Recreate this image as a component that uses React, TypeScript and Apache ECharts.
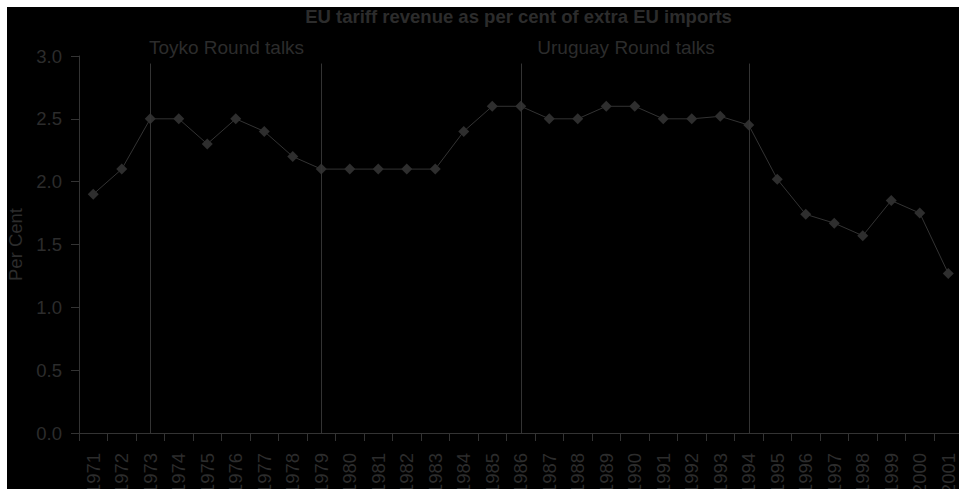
import React, { useEffect, useRef } from "react";
import * as echarts from "echarts";

const years = [
  "1971","1972","1973","1974","1975","1976","1977","1978","1979","1980",
  "1981","1982","1983","1984","1985","1986","1987","1988","1989","1990",
  "1991","1992","1993","1994","1995","1996","1997","1998","1999","2000","2001",
];
const revenue = [
  1.9, 2.1, 2.5, 2.5, 2.3, 2.5, 2.4, 2.2, 2.1, 2.1,
  2.1, 2.1, 2.1, 2.4, 2.6, 2.6, 2.5, 2.5, 2.6, 2.6,
  2.5, 2.5, 2.52, 2.45, 2.02, 1.74, 1.67, 1.57, 1.85, 1.75, 1.27,
];
const roundYears = ["1973", "1979", "1986", "1994"];
const roundLineTop = 2.94;
const roundLabels = ["Toyko Round talks", "Uruguay Round talks"];
const titleText = "EU tariff revenue as per cent of extra EU imports";
const yTicks = { min: 0, max: 3, interval: 0.5 };

const FONT = "Liberation Sans, Arial, Helvetica, sans-serif";
const TXT = "#2c2c2c";
const LINE = "#333333";

export default function App() {
  const ref = useRef<HTMLDivElement>(null);
  useEffect(() => {
    if (!ref.current) return;
    const chart = echarts.init(ref.current, undefined, { renderer: "svg" });
    chart.setOption({
      animation: false,
      backgroundColor: "#000000",
      textStyle: { fontFamily: FONT },
      grid: {
        left: 72,
        right: 6.5,
        top: 49,
        bottom: 56,
        containLabel: false,
        outerBoundsMode: "none",
      },
      graphic: [
        {
          type: "text",
          x: 511.5,
          y: 9.5,
          style: {
            text: titleText,
            fill: TXT,
            font: `bold 18.5px ${FONT}`,
            textAlign: "center",
            textVerticalAlign: "middle",
          },
        },
        {
          type: "text",
          x: 219.5,
          y: 40,
          style: {
            text: roundLabels[0],
            fill: TXT,
            font: `19px ${FONT}`,
            textAlign: "center",
            textVerticalAlign: "middle",
          },
        },
        {
          type: "text",
          x: 619,
          y: 40,
          style: {
            text: roundLabels[1],
            fill: TXT,
            font: `19px ${FONT}`,
            textAlign: "center",
            textVerticalAlign: "middle",
          },
        },
      ],
      xAxis: {
        type: "category",
        data: years,
        boundaryGap: true,
        axisLine: { show: true, lineStyle: { color: LINE, width: 1 } },
        axisTick: { show: true, alignWithLabel: false, length: 8, lineStyle: { color: LINE } },
        axisLabel: {
          rotate: 90,
          interval: 0,
          margin: 20,
          color: TXT,
          fontSize: 18.5,
          fontFamily: FONT,
        },
        splitLine: { show: false },
      },
      yAxis: {
        type: "value",
        min: yTicks.min,
        max: yTicks.max,
        interval: yTicks.interval,
        name: "Per Cent",
        nameLocation: "middle",
        nameGap: 53,
        nameTextStyle: { color: TXT, fontSize: 18.5, fontFamily: FONT },
        axisLine: { show: true, lineStyle: { color: LINE, width: 1 } },
        axisTick: { show: true, length: 8, lineStyle: { color: LINE } },
        axisLabel: {
          margin: 17,
          color: TXT,
          fontSize: 18.5,
          fontFamily: FONT,
          formatter: (v: number) => v.toFixed(1),
        },
        splitLine: { show: false },
      },
      series: [
        {
          type: "line",
          data: revenue,
          symbol: "diamond",
          symbolSize: 11,
          itemStyle: { color: "#2e2e2e" },
          lineStyle: { color: LINE, width: 1 },
          markLine: {
            silent: true,
            symbol: ["none", "none"],
            label: { show: false },
            lineStyle: { color: LINE, width: 1, type: "solid" },
            data: roundYears.map((y) => [
              { coord: [y, roundLineTop] },
              { coord: [y, 0] },
            ]),
          },
        },
      ],
    });
    return () => chart.dispose();
  }, []);
  return (
    <div
      style={{
        position: "fixed",
        left: 7,
        top: 7,
        width: 952,
        height: 482,
        overflow: "hidden",
        background: "#000",
      }}
    >
      <div ref={ref} style={{ width: 962, height: 482 }} />
    </div>
  );
}
